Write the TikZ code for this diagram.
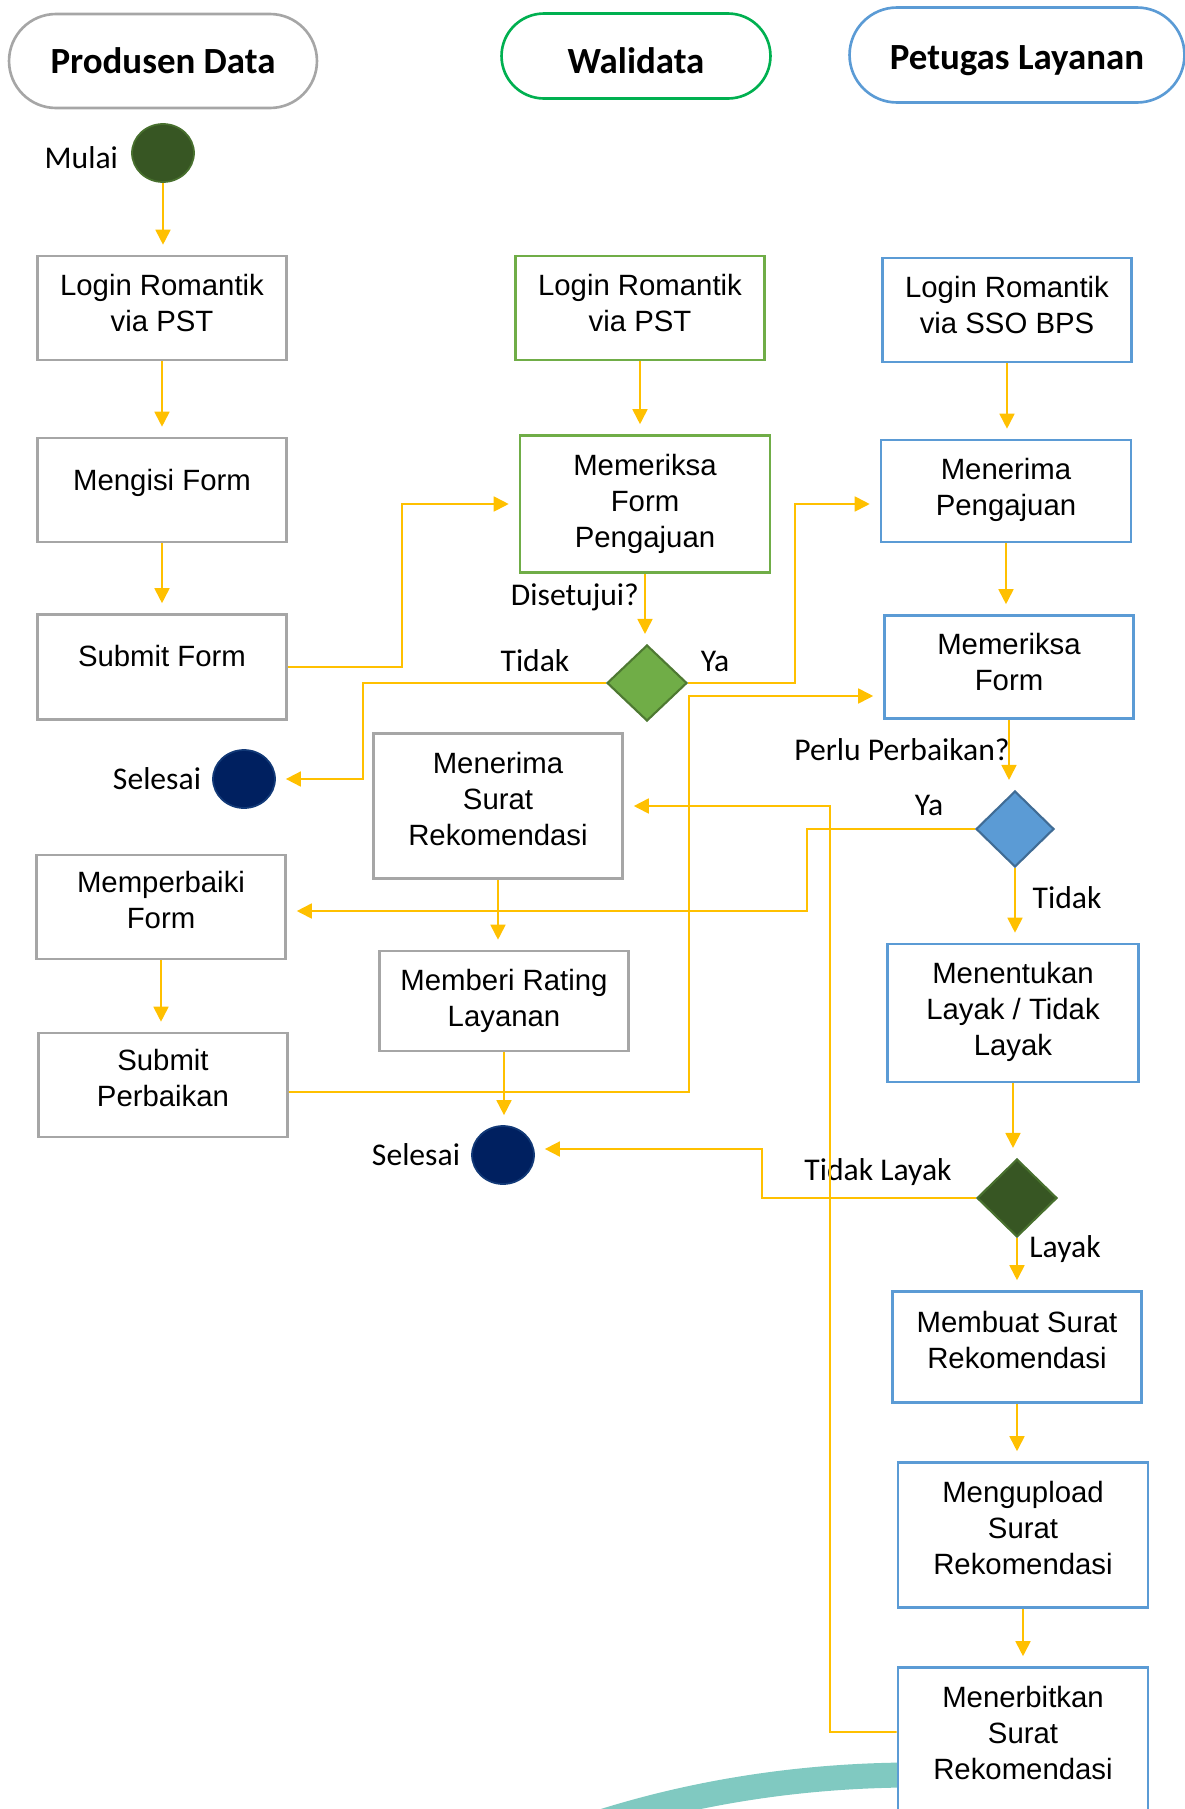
\documentclass[tikz,border=0pt]{standalone}
\usepackage{fontspec}
\setmainfont{Liberation Sans}
\newfontfamily\calibri{Carlito}
\usetikzlibrary{shapes.geometric,shapes.misc,arrows.meta}

\definecolor{abu}{HTML}{A6A6A6}
\definecolor{hijau}{HTML}{00B050}
\definecolor{hijaumuda}{HTML}{70AD47}
\definecolor{hijautua}{HTML}{375623}
\definecolor{biru}{HTML}{5B9BD5}
\definecolor{birutua}{HTML}{002060}
\definecolor{kuning}{HTML}{FFC000}
\definecolor{tosca}{HTML}{80C9C1}

\tikzset{
  judul/.style={rounded rectangle,draw,line width=1.5pt,fill=white,inner sep=0pt,
    font=\calibri\bfseries\fontsize{21}{25}\selectfont},
  proses/.style={rectangle,draw,line width=1.5pt,fill=white,align=center,inner sep=2pt,
    minimum width=4.98cm,minimum height=2.08cm,text depth=0.3cm,
    font=\fontsize{16.7}{20.5}\selectfont},
  pd/.style={proses,draw=abu},
  wd/.style={proses,draw=hijaumuda},
  pl/.style={proses,draw=biru},
  putusan/.style={diamond,draw,line width=1.2pt,inner sep=0pt},
  titik/.style={ellipse,line width=1pt,inner sep=0pt,minimum width=1.24cm,minimum height=1.16cm},
  ket/.style={font=\calibri\fontsize{18}{22}\selectfont,inner sep=1pt},
  alur/.style={draw=kuning,line width=1pt,shorten >=0.2cm,-{Triangle[width=0.3cm,length=0.3cm]}}
}

\begin{document}
\begin{tikzpicture}[x=0.02cm,y=-0.02cm]
\useasboundingbox (0,0) rectangle (1185,1809);
\clip (0,0) rectangle (1185,1809);

\draw[tosca,line width=0.5cm] (560,1836) .. controls (680,1792) and (800,1776) .. (905,1775);

\node[judul,draw=abu,minimum width=6.16cm,minimum height=1.88cm] (hpd) at (163,61) {Produsen Data};
\node[judul,draw=hijau,minimum width=5.38cm,minimum height=1.7cm,text height=0.7cm] (hwd) at (636,56) {Walidata};
\node[judul,draw=biru,minimum width=6.7cm,minimum height=1.9cm,text height=0.7cm] (hpl) at (1017,55) {Petugas Layanan};

\node[titik,fill=hijautua,draw=hijautua!70!hijaumuda] (mulai) at (163,153) {};
\node[ket,anchor=east] (tmulai) at ([xshift=-0.22cm,yshift=-0.1cm]mulai.west) {Mulai};

\node[pd,text depth=0.2cm] (pd1) at (162,308) {Login Romantik\\via PST};
\node[pd,text depth=0.4cm] (pd2) at (162,490) {Mengisi Form};
\node[pd,minimum height=2.1cm,text depth=0.46cm] (pd3) at (162,667) {Submit Form};
\node[titik,fill=birutua,draw=birutua!80!biru] (sel1) at (244,779) {};
\node[ket,anchor=east] (tsel1) at ([xshift=-0.18cm]sel1.west) {Selesai};
\node[pd] (pd4) at (161,907) {Memperbaiki\\Form};
\node[pd] (pd5) at (163,1085) {Submit\\Perbaikan};

\node[wd,text depth=0.2cm] (wd1) at (640,308) {Login Romantik\\via PST};
\node[wd,minimum width=5cm,minimum height=2.74cm,text depth=0.12cm] (wd2) at (645,504) {Memeriksa\\Form\\Pengajuan};
\node[putusan,fill=hijaumuda,draw=hijaumuda!70!black,minimum width=1.6cm,minimum height=1.52cm] (wdq) at (647,683) {};
\node[pd,minimum height=2.9cm] (wd3) at (498,806) {Menerima\\Surat\\Rekomendasi};
\node[pd,minimum height=2cm,text depth=0.12cm] (wd4) at (504,1001) {Memberi Rating\\Layanan};
\node[titik,fill=birutua,draw=birutua!80!biru] (sel2) at (503,1155) {};
\node[ket,anchor=east] (tsel2) at ([xshift=-0.18cm]sel2.west) {Selesai};

\node[pl,text depth=0.2cm] (pl1) at (1007,310) {Login Romantik\\via SSO BPS};
\node[pl,minimum width=5cm,minimum height=2.04cm,text depth=0.15cm] (pl2) at (1006,491) {Menerima\\Pengajuan};
\node[pl,minimum height=2.06cm,text depth=0.2cm] (pl3) at (1009,667) {Memeriksa\\Form};
\node[putusan,fill=biru,draw=biru!70!black,minimum width=1.56cm,minimum height=1.52cm] (plq1) at (1015,829) {};
\node[pl,minimum width=5.02cm,minimum height=2.76cm,text depth=0.15cm] (pl4) at (1013,1013) {Menentukan\\Layak / Tidak\\Layak};
\node[putusan,fill=hijautua,draw=hijautua!70!hijaumuda,minimum width=1.6cm,minimum height=1.56cm] (plq2) at (1017,1198) {};
\node[pl,minimum height=2.22cm] (pl5) at (1017,1347) {Membuat Surat\\Rekomendasi};
\node[pl,minimum width=5cm,minimum height=2.9cm] (pl6) at (1023,1535) {Mengupload\\Surat\\Rekomendasi};
\node[pl,minimum width=5cm,minimum height=2.9cm] (pl7) at (1023,1740) {Menerbitkan\\Surat\\Rekomendasi};

\node[ket,anchor=east] (tsetuju) at (641,597) {Disetujui?};
\node[ket] (ttidak1) at (535,661) {Tidak};
\node[ket] (tya1) at (715,661) {Ya};
\node[ket] (tperlu) at (902,750) {Perlu Perbaikan?};
\node[ket] (tya2) at (929,805) {Ya};
\node[ket] (ttidak2) at (1067,898) {Tidak};
\node[ket] (ttdklayak) at (878,1172) {Tidak Layak};
\node[ket] (tlayak) at (1065,1249) {Layak};

\draw[alur] (mulai.south) -- (mulai.south |- pd1.north);
\draw[alur] (pd1) -- (pd2);
\draw[alur] (pd2) -- (pd3);
\draw[alur] (pd3.east) -- (402,667) |- (wd2.west);
\draw[alur] (pd4) -- (pd4 |- pd5.north);
\draw[alur] ([yshift=-0.14cm]pd5.east) -- (689,1092) |- ([yshift=-0.58cm]pl3.west);

\draw[alur] (wd1) -- (wd1 |- wd2.north);
\draw[alur] (wd2) -- (wd2 |- wdq.north);
\draw[alur] (wdq.west) -- (363,683) |- (sel1.east);
\draw[alur] (wdq.east) -- (795,683) |- (pl2.west |- wd2.west);
\draw[alur] (wd3) -- (wd3 |- wd4.north);
\draw[alur] (wd4) -- (wd4 |- sel2.north);

\draw[alur] (pl1) -- (pl1 |- pl2.north);
\draw[alur] (pl2) -- (pl2 |- pl3.north);
\draw[alur] (pl3) -- (pl3 |- plq1.north);
\draw[alur] (plq1) -- (plq1 |- pl4.north);
\draw[alur] (plq1.west) -- (807,829) |- ([yshift=-0.08cm]pd4.east);
\draw[alur] (pl4) -- (pl4 |- plq2.north);
\draw[alur] (plq2.west) -- (762,1198) |- ([yshift=0.12cm]sel2.east);
\draw[alur] (plq2) -- (plq2 |- pl5.north);
\draw[alur] (pl5) -- (pl5 |- pl6.north);
\draw[alur] (pl6) -- (pl6 |- pl7.north);
\draw[alur] ([yshift=0.16cm]pl7.west) -- (830,1732) |- (wd3.east);
\end{tikzpicture}
\end{document}
